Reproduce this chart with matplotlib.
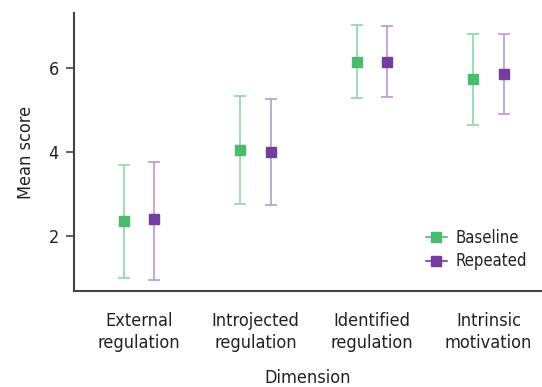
import matplotlib.pyplot as plt
from matplotlib.lines import Line2D
import numpy as np

plt.rcParams["font.family"] = ["DejaVu Sans"]
plt.rcParams["font.stretch"] = "condensed"

# data
dimensions = ["External\nregulation", "Introjected\nregulation",
              "Identified\nregulation", "Intrinsic\nmotivation"]
baseline_mean = [2.36, 4.05, 6.14, 5.74]
baseline_low = [1.00, 2.76, 5.29, 4.64]
baseline_high = [3.69, 5.33, 7.02, 6.81]
repeated_mean = [2.40, 4.00, 6.14, 5.86]
repeated_low = [0.95, 2.74, 5.31, 4.90]
repeated_high = [3.76, 5.26, 7.00, 6.81]

C_GREEN = "#4cbb6d"
C_GREEN_L = "#8fd6a3"
C_PURPLE = "#743c9c"
C_PURPLE_L = "#b99ad0"
C_TEXT = "#222222"

fig = plt.figure(figsize=(5.42, 3.87), dpi=100)
ax = fig.add_axes([0.1365, 0.248, 0.8635, 0.718])

x = np.arange(len(dimensions))
off = 0.13

def series(xpos, mean, low, high, col, col_l):
    mean = np.array(mean)
    yerr = [mean - np.array(low), np.array(high) - mean]
    ax.errorbar(xpos, mean, yerr=yerr, fmt="s", color=col, ecolor=col_l,
                markersize=7.5, elinewidth=1.2, capsize=4, capthick=1.2)

series(x - off, baseline_mean, baseline_low, baseline_high, C_GREEN, C_GREEN_L)
series(x + off, repeated_mean, repeated_low, repeated_high, C_PURPLE, C_PURPLE_L)

ax.set_xlim(-0.56, 3.46)
ax.set_ylim(0.69, 7.31)
ax.set_yticks([2, 4, 6])
ax.set_xticks(x)
ax.set_xticklabels(dimensions, fontsize=13, color=C_TEXT, linespacing=1.3)
ax.tick_params(axis="x", length=0, pad=15)
ax.tick_params(axis="y", length=6, width=1.2, colors="#444444", labelsize=13,
               labelcolor=C_TEXT, pad=5)

for s in ["top", "right"]:
    ax.spines[s].set_visible(False)
for s in ["left", "bottom"]:
    ax.spines[s].set_color("#444444")
    ax.spines[s].set_linewidth(1.5)

ax.set_ylabel("Mean score", fontsize=13, color=C_TEXT, labelpad=10)
ax.set_xlabel("Dimension", fontsize=13, color=C_TEXT, labelpad=12)

handles = [
    Line2D([], [], color=C_GREEN, marker="s", markersize=7.5, lw=1.2, label="Baseline"),
    Line2D([], [], color=C_PURPLE, marker="s", markersize=7.5, lw=1.2, label="Repeated"),
]
leg = ax.legend(handles=handles, loc="lower right", frameon=False, fontsize=12,
                bbox_to_anchor=(1.0, 0.02), handlelength=1.3,
                handletextpad=0.5, labelspacing=0.35)
for t in leg.get_texts():
    t.set_color(C_TEXT)

fig.savefig("out.png", dpi=100)
